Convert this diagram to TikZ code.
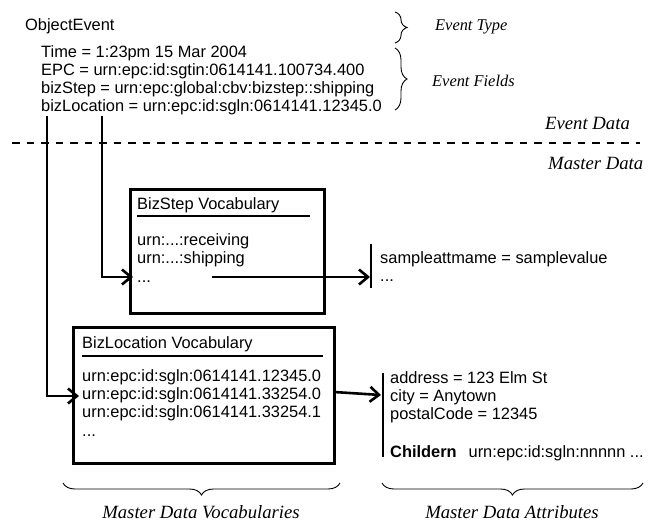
\documentclass[tikz,border=0pt]{standalone}
\usepackage{fontspec}
\setmainfont{Liberation Serif}
\setsansfont{Liberation Sans}
\usetikzlibrary{arrows.meta,decorations.pathreplacing}

\begin{document}
\begin{tikzpicture}
[x=1pt,y=-1pt,%
  every node/.style={inner sep=0pt,anchor=base west,align=left},%
  field/.style={font=\fontsize{16.4}{17.7}\selectfont\sffamily},%
  note/.style={font=\fontsize{16.4}{18}\selectfont\itshape,anchor=west},%
  layer/.style={font=\fontsize{18.7}{22}\selectfont\itshape,anchor=west},%
  vocab/.style={draw,line width=2.7pt,anchor=north west},%
  flow/.style={line width=2.6pt,-{Straight Barb[length=9pt,width=15pt,line width=2.6pt]}},%
  bar/.style={line width=2.7pt},%
  rule/.style={line width=2.2pt},%
  split/.style={line width=2.7pt,dash pattern=on 7.5pt off 7pt},%
  grp/.style={decorate,decoration={brace,amplitude=#1},line width=0.9pt},%
  grp/.default=12pt]
\useasboundingbox (0,0) rectangle (656,522);
% event part (multi-line nodes sit on their last line)
\node[field] (evtype) at (25,30) {ObjectEvent};
\node[field] (evfields) at (41,111)
  {Time = 1:23pm 15 Mar 2004\\
   EPC = urn:epc:id:sgtin:0614141.100734.400\\
   bizStep = urn:epc:global:cbv:bizstep::shipping\\
   bizLocation = urn:epc:id:sgln:0614141.12345.0};
\coordinate (typetop) at (395,12);
\coordinate (typebot) at (395,43);
\coordinate (fieldtop) at (395,48);
\coordinate (fieldbot) at (395,110);
\draw[grp] (typetop) -- (typebot);
\draw[grp] (fieldtop) -- (fieldbot);
\node[note] (typelbl) at (435,27) {Event Type};
\node[note] (fieldlbl) at (432,81) {Event Fields};
\node[layer] (evdata) at (545,123) {Event Data};
\coordinate (splitl) at (12,143);
\coordinate (splitr) at (640,143);
\draw[split] (splitl) -- (splitr);
\node[layer] (mdata) at (548,163) {Master Data};
% bizstep vocabulary
\node[vocab,minimum width=194pt,minimum height=124pt] (stepbox) at (129,188) {};
\node[field] (steptitle) at (137,209) {BizStep Vocabulary};
\draw[rule] (137,216) -- (310,216);
\node[field,font=\fontsize{16.4}{18.5}\selectfont\sffamily] (stepitems) at (137,282)
  {urn:...:receiving\\urn:...:shipping\\...};
% bizlocation vocabulary
\node[vocab,minimum width=261pt,minimum height=136pt] (locbox) at (72,326) {};
\node[field] (loctitle) at (82,348) {BizLocation Vocabulary};
\draw[rule] (82,356) -- (323,356);
\node[field,font=\fontsize{16.4}{18.2}\selectfont\sffamily] (locitems) at (82,436)
  {urn:epc:id:sgln:0614141.12345.0\\
   urn:epc:id:sgln:0614141.33254.0\\
   urn:epc:id:sgln:0614141.33254.1\\
   ...};
% attributes
\node[field] (sampleattr) at (380,281) {sampleattmame = samplevalue\\...};
\draw[bar] (371,244) -- (371,288);
\node[field,font=\fontsize{16.4}{18}\selectfont\sffamily] (locattr) at (390,457)
  {address = 123 Elm St\\
   city = Anytown\\
   postalCode = 12345\\[20pt]
   \textbf{Childern}\hspace{0.45em} urn:epc:id:sgln:nnnnn ...};
\draw[bar] (383,373) -- (383,457);
% links
\coordinate (stepsrc) at (102,116);
\coordinate (locsrc) at (47,116);
\coordinate (stepin) at (133,277);
\coordinate (locin) at (79,396);
\coordinate (stepout) at (212,277);
\coordinate (samplein) at (370,277);
\coordinate (locout) at (334,392);
\coordinate (attrin) at (381,395);
\draw[flow] (stepsrc) |- (stepin);
\draw[flow] (locsrc) |- (locin);
\draw[flow] (stepout) -- (samplein);
\draw[flow] (locout) -- (attrin);
% groups
\draw[grp] (340,483) -- (63,483);
\draw[grp] (643,483) -- (382,483);
\node[layer,anchor=center] (vocablbl) at (201,512) {Master Data Vocabularies};
\node[layer,anchor=center] (attrlbl) at (512,512) {Master Data Attributes};
\end{tikzpicture}
\end{document}
